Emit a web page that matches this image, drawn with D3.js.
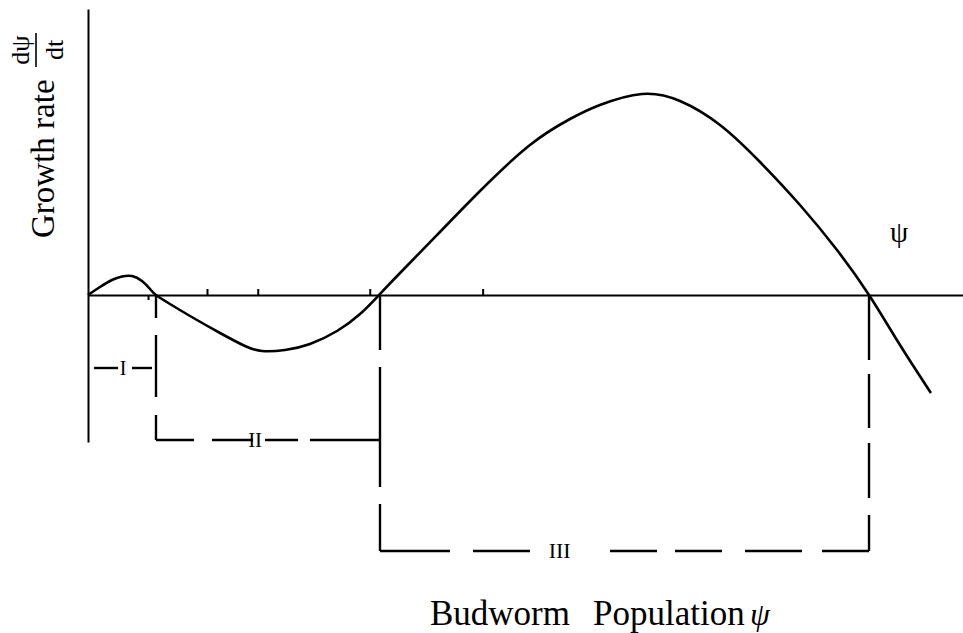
<!DOCTYPE html>
<html>
<head>
<meta charset="utf-8">
<script src="https://cdn.jsdelivr.net/npm/d3@7/dist/d3.min.js"></script>
<style>
  html, body { margin: 0; padding: 0; background: #fff; }
  svg { display: block; }
  text { font-family: "Liberation Serif", "DejaVu Serif", serif; fill: #000; }
</style>
</head>
<body>
<svg id="chart" width="963" height="633"></svg>
<script>
// ---- data (arbitrary units) ----
// growth-rate curve dψ/dt versus population ψ
const popX    = [0, 1.37, 2.74, 3.89, 5.03, 6.17, 7.09, 7.77, 9.37, 11.66, 15.09, 17.94, 19.89, 22.51, 25.37,
                 28.46, 31.09, 33.26, 35.66, 39.89, 44.8, 50.51, 55.09, 58.51, 63.31, 67.66, 72.23, 76.8,
                 81.37, 85.6, 89.26, 92.8, 96.34];
const growthY = [0, 0.8, 1.5, 1.85, 1.9, 1.4, 0.6, 0, -0.9, -2.1, -3.8, -5.1, -5.6, -5.5, -4.9,
                 -3.6, -1.9, 0, 2.2, 6.0, 10.4, 15.0, 17.6, 19.0, 20.1, 19.4, 17.0, 13.3,
                 9.0, 4.5, 0, -5.0, -9.8];

// x-axis tick marks
const tickUp   = [13.6, 19.4, 32.2, 45.1];
const tickDown = [6.86];

// regimes I, II, III: label, label position, level of the bracket
const regimeNames  = ["I", "II", "III"];
const regimeLabelX = [4.0, 19.1, 53.9];
const regimeLevel  = [-7.3, -14.5, -25.6];

// dashed bracket pieces (horizontal: [x0,x1] at level; vertical: [y0,y1] at x)
const hPieces = [
  [[0.69, 3.43], [5.03, 7.31]],
  [[7.77, 12.11], [14.17, 18.86], [20.23, 24.0], [25.37, 33.37]],
  [[33.37, 41.37], [44.0, 50.51], [59.66, 65.03], [67.09, 72.46], [75.09, 81.6], [83.89, 89.26]]
];
const vLineX = [7.77, 33.37, 89.26];
const vPieces = [
  [[0, -2.3], [-4.0, -10.2], [-12.0, -14.5]],
  [[0, -5.5], [-7.2, -19.2], [-20.9, -25.6]],
  [[0, -6.5], [-7.9, -13.3], [-14.8, -20.3], [-22.0, -25.6]]
];

// axis extents
const yAxisTop = 28.6, yAxisBottom = -14.7;

// ---- scales ----
const svg = d3.select("#chart");
const x = d3.scaleLinear().domain([0, 100]).range([88, 963]);
const y = d3.scaleLinear().domain([-33.8, 29.5]).range([633, 0]);

// ---- axes ----
svg.append("g").attr("transform", `translate(0,${y(0)})`)
  .call(d3.axisBottom(x).tickValues(tickUp).tickSizeInner(-6).tickSizeOuter(0).tickFormat(""));
svg.append("g").attr("transform", `translate(0,${y(0)})`)
  .call(d3.axisBottom(x).tickValues(tickDown).tickSizeInner(5).tickSizeOuter(0).tickFormat(""))
  .select(".domain").remove();

const yAxisScale = d3.scaleLinear().domain([yAxisBottom, yAxisTop]).range([y(yAxisBottom), y(yAxisTop)]);
svg.append("g").attr("transform", `translate(${x(0)},0)`)
  .call(d3.axisLeft(yAxisScale).tickValues([]).tickSizeOuter(0));

svg.selectAll(".domain, .tick line").attr("stroke", "#000").attr("stroke-width", 2);

// ---- curve ----
const pts = popX.map((v, i) => [v, growthY[i]]);
svg.append("path")
  .datum(pts)
  .attr("fill", "none")
  .attr("stroke", "#000")
  .attr("stroke-width", 2.6)
  .attr("stroke-linejoin", "round")
  .attr("d", d3.line().x(d => x(d[0])).y(d => y(d[1])).curve(d3.curveNatural));

// ---- regime brackets ----
const br = svg.append("g").attr("stroke", "#000").attr("stroke-width", 2.4).attr("fill", "none");
hPieces.forEach((pieces, r) => {
  pieces.forEach(p => {
    br.append("line")
      .attr("x1", x(p[0])).attr("x2", x(p[1]))
      .attr("y1", y(regimeLevel[r])).attr("y2", y(regimeLevel[r]));
  });
});
vPieces.forEach((pieces, r) => {
  pieces.forEach(p => {
    br.append("line")
      .attr("x1", x(vLineX[r])).attr("x2", x(vLineX[r]))
      .attr("y1", y(p[0])).attr("y2", y(p[1]));
  });
});

const labelSize = [20, 21, 22];
regimeNames.forEach((nm, r) => {
  svg.append("text")
    .attr("x", x(regimeLabelX[r]))
    .attr("y", y(regimeLevel[r]) + labelSize[r] * 0.33)
    .attr("text-anchor", "middle")
    .attr("font-size", labelSize[r])
    .text(nm);
});

// ---- labels ----
// y axis label (rotated)
svg.append("text")
  .attr("transform", "translate(54,238) rotate(-90)")
  .attr("text-anchor", "start")
  .attr("font-size", 33)
  .text("Growth rate");
// fraction dψ/dt
const frac = svg.append("g").attr("transform", "translate(36,50) rotate(-90)");
frac.append("text").attr("x", 0).attr("y", -7).attr("text-anchor", "middle").attr("font-size", 26).text("dψ");
frac.append("text").attr("x", 0).attr("y", 27).attr("text-anchor", "middle").attr("font-size", 26).text("dt");
frac.append("line").attr("x1", -17).attr("x2", 17).attr("y1", 0).attr("y2", 0)
  .attr("stroke", "#000").attr("stroke-width", 1.6);

// ψ at right end of axis
svg.append("text")
  .attr("x", 899).attr("y", 242)
  .attr("text-anchor", "middle")
  .attr("font-size", 29)
  .text("ψ");

// x axis title
svg.append("text").attr("x", 430).attr("y", 625).attr("font-size", 35).text("Budworm");
svg.append("text").attr("x", 593).attr("y", 625).attr("font-size", 35).text("Population");
svg.append("text").attr("x", 750).attr("y", 625).attr("font-size", 32).attr("font-style", "italic").text("ψ");
</script>
</body>
</html>
